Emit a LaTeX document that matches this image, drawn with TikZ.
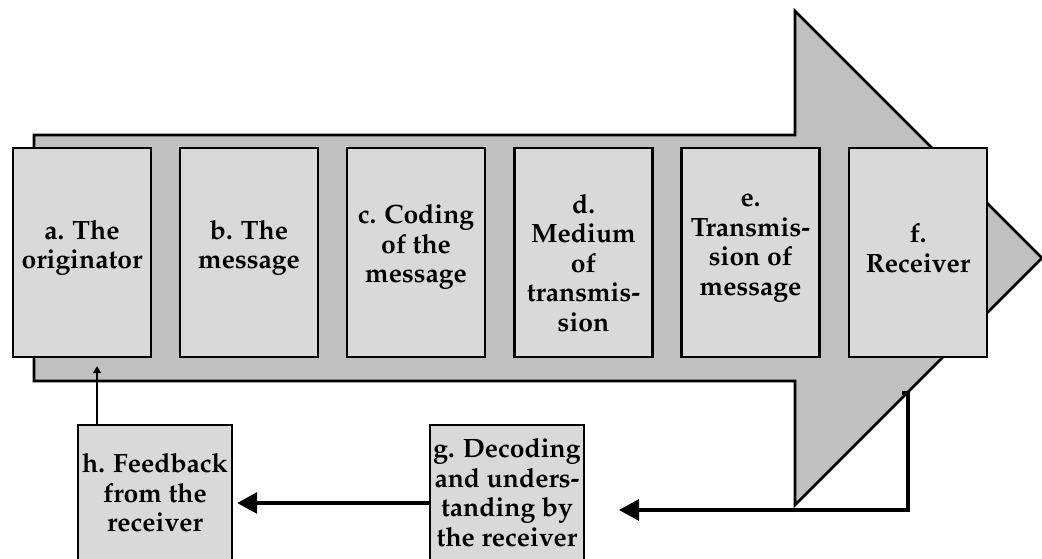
\documentclass[tikz,border=0pt]{standalone}
\usepackage[T1]{fontenc}
\usepackage{mathpazo}
\usetikzlibrary{arrows.meta}
\definecolor{arrowgray}{RGB}{192,192,192}
\definecolor{boxgray}{RGB}{217,217,217}
\tikzset{
  bigarrow/.style={draw=black, fill=arrowgray, line width=2.6pt, line join=miter},
  topbox/.style={draw=black, fill=boxgray, line width=2.4pt, minimum width=138pt, minimum height=209pt, inner sep=0pt},
  lowbox/.style={draw=black, fill=boxgray, line width=2.4pt, minimum width=154pt, minimum height=200pt, inner sep=0pt, anchor=north},
  boxtext/.style={align=center, inner sep=0pt, font=\fontsize{26.5}{29.5}\selectfont\bfseries},
  fbarrow/.style={draw=black, line width=3.2pt, -{Triangle[length=20pt,width=21pt]}},
  thinarrow/.style={draw=black, line width=1.4pt, -{Triangle[length=7pt,width=8pt]}}
}
\begin{document}
\begin{tikzpicture}[x=1pt,y=-1pt]
\useasboundingbox (0,0) rectangle (1042,558);
\clip (0,0) rectangle (1042,558);
% big arrow
\draw[bigarrow] (34,135) -- (795,135) -- (795,11) -- (1042,258) -- (795,505) -- (795,381) -- (34,381) -- cycle;
% top boxes
\node[topbox] (a) at (82,252.5) {};
\node[topbox] (b) at (249,252.5) {};
\node[topbox] (c) at (416,252.5) {};
\node[topbox] (d) at (583.5,252.5) {};
\node[topbox] (e) at (750.5,252.5) {};
\node[topbox] (f) at (918,252.5) {};
\node[boxtext] (at) at (82,248) {a. The\\originator};
\node[boxtext] (bt) at (249,248) {b. The\\message};
\node[boxtext] (ct) at (416,247) {c. Coding\\of the\\message};
\node[boxtext] (dt) at (583.5,263) {d.\\Medium\\of\\transmis-\\sion};
\node[boxtext] (et) at (750.5,248) {e.\\Transmis-\\sion of\\message};
\node[boxtext] (ft) at (918,248) {f.\\Receiver};
% lower boxes
\node[lowbox] (h) at (155,424) {};
\node[lowbox] (g) at (507,424) {};
\node[boxtext] (ht) at (155,493) {h. Feedback\\from the\\receiver};
\node[boxtext] (gt) at (507,492.5) {g. Decoding\\and unders-\\tanding by\\the receiver};
% connectors
\coordinate (hx) at (97,0);
\coordinate (gy) at (0,503);
\coordinate (fs) at (902,393);
\coordinate (fc) at (908,510);
\coordinate (gend) at (619,510);
\draw[thinarrow, shorten >=8pt] (h.north -| hx) -- (a.south -| hx);
\draw[fbarrow, shorten >=4pt] (g.west |- gy) -- (h.east |- gy);
\draw[fbarrow, line join=miter] (fs) -- (fs -| fc) -- (fc) -- (gend);
\end{tikzpicture}
\end{document}
